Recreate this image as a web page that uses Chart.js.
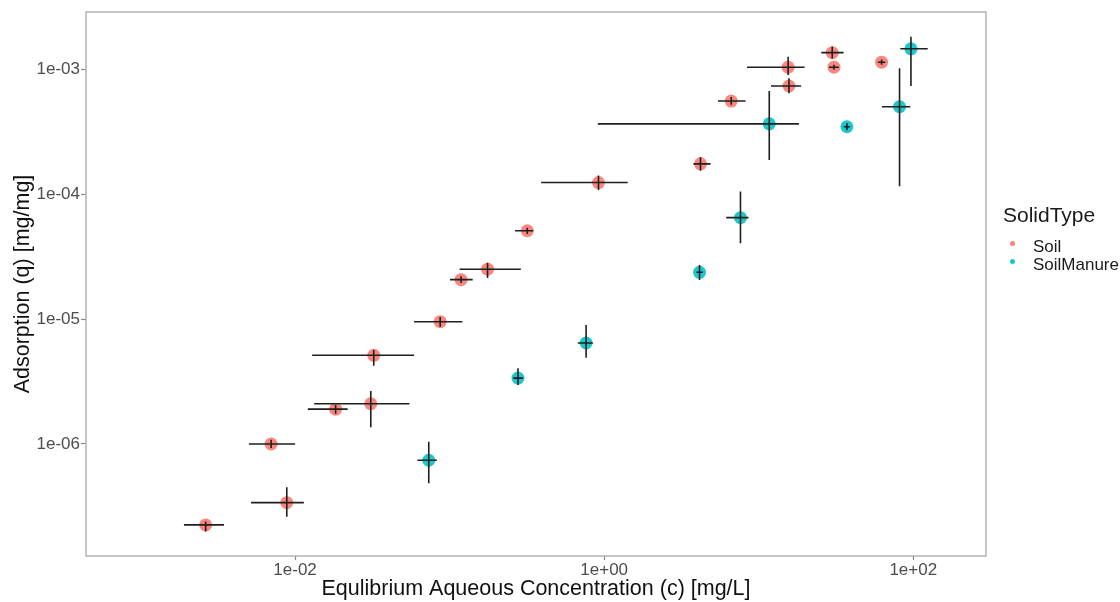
<!DOCTYPE html>
<html>
<head>
<meta charset="utf-8">
<script src="https://cdn.jsdelivr.net/npm/chart.js@4.4.1/dist/chart.umd.min.js"></script>
<style>
  html, body { margin: 0; padding: 0; background: #ffffff; }
  #wrap { position: relative; width: 1120px; height: 602px; overflow: hidden; }
  canvas { position: absolute; left: 0; top: 0; }
  .lg { position: absolute; font-family: "Liberation Sans", Arial, sans-serif; color: #1a1a1a; white-space: nowrap; }
  .dot { position: absolute; width: 5px; height: 5px; border-radius: 50%; }
</style>
</head>
<body>
<div id="wrap">
  <canvas id="c" width="1120" height="602"></canvas>
  <div class="lg" style="left:1003px; top:204px; font-size:21px; line-height:21px;">SolidType</div>
  <div class="dot" style="left:1010px; top:241px; background:rgba(248,118,109,0.9);"></div>
  <div class="lg" style="left:1033px; top:237.5px; font-size:17px; line-height:17px;">Soil</div>
  <div class="dot" style="left:1010px; top:259px; background:rgba(0,191,196,0.9);"></div>
  <div class="lg" style="left:1033px; top:255.5px; font-size:17px; line-height:17px;">SoilManure</div>
</div>
<script>
// ---------- data ----------
const seriesNames = ['Soil', 'SoilManure'];

const soilC   = [0.00264, 0.0070, 0.00884, 0.0183, 0.0309, 0.0323, 0.0869, 0.1186, 0.176, 0.318, 0.919, 4.20, 6.64, 15.5, 15.7, 29.9, 30.7, 62.4];
const soilQ   = [2.25e-7, 1.00e-6, 3.39e-7, 1.90e-6, 2.10e-6, 5.13e-6, 9.53e-6, 2.07e-5, 2.51e-5, 5.10e-5, 1.24e-4, 1.75e-4, 5.57e-4, 1.04e-3, 7.35e-4, 1.36e-3, 1.04e-3, 1.14e-3];
const soilCLo = [0.00191, 0.00503, 0.00519, 0.0121, 0.0133, 0.0129, 0.0589, 0.1006, 0.116, 0.265, 0.391, 3.78, 5.45, 8.40, 12.0, 25.4, 28.5, 59.0];
const soilCHi = [0.00347, 0.0100, 0.0114, 0.0219, 0.0550, 0.0589, 0.121, 0.141, 0.289, 0.348, 1.42, 4.88, 8.22, 19.8, 18.8, 35.4, 33.0, 66.0];
const soilQLo = [1.99e-7, 0.93e-6, 2.62e-7, 1.75e-6, 1.36e-6, 4.24e-6, 8.70e-6, 1.95e-5, 2.13e-5, 4.80e-5, 1.08e-4, 1.54e-4, 5.20e-4, 9.00e-4, 6.43e-4, 1.22e-3, 0.99e-3, 1.09e-3];
const soilQHi = [2.39e-7, 1.08e-6, 4.50e-7, 2.05e-6, 2.66e-6, 5.66e-6, 1.04e-5, 2.20e-5, 2.82e-5, 5.40e-5, 1.41e-4, 1.99e-4, 6.00e-4, 1.26e-3, 8.47e-4, 1.52e-3, 1.09e-3, 1.20e-3];

const manureC   = [0.0733, 0.277, 0.764, 4.14, 7.62, 11.7, 37.2, 81.5, 96.6];
const manureQ   = [7.41e-7, 3.37e-6, 6.44e-6, 2.37e-5, 6.49e-5, 3.66e-4, 3.47e-4, 5.02e-4, 1.46e-3];
const manureCLo = [0.0619, 0.258, 0.675, 3.95, 6.16, 0.910, 35.5, 62.7, 82.4];
const manureCHi = [0.0826, 0.299, 0.845, 4.35, 8.59, 18.2, 39.0, 95.7, 124];
const manureQLo = [4.84e-7, 2.97e-6, 4.91e-6, 2.06e-5, 4.05e-5, 1.88e-4, 3.25e-4, 1.16e-4, 7.35e-4];
const manureQHi = [1.04e-6, 4.04e-6, 8.98e-6, 2.71e-5, 1.05e-4, 6.70e-4, 3.70e-4, 1.02e-3, 1.82e-3];

const xTickValues = [1e-2, 1e0, 1e2];
const xTickLabels = ['1e-02', '1e+00', '1e+02'];
const yTickValues = [1e-6, 1e-5, 1e-4, 1e-3];
const yTickLabels = ['1e-06', '1e-05', '1e-04', '1e-03'];

const xTitle = 'Equlibrium Aqueous Concentration (c) [mg/L]';
const yTitle = 'Adsorption (q) [mg/mg]';

// ---------- chart ----------
const FONT = '"Liberation Sans", Arial, sans-serif';
const errSets = [
  { c: soilC, q: soilQ, cLo: soilCLo, cHi: soilCHi, qLo: soilQLo, qHi: soilQHi },
  { c: manureC, q: manureQ, cLo: manureCLo, cHi: manureCHi, qLo: manureQLo, qHi: manureQHi }
];

const errorBars = {
  id: 'errorBars',
  afterDatasetsDraw(chart) {
    const ctx = chart.ctx, xs = chart.scales.x, ys = chart.scales.y;
    ctx.save();
    ctx.strokeStyle = '#1f1f1f';
    ctx.lineWidth = 1.6;
    errSets.forEach(s => {
      s.c.forEach((c, i) => {
        const px = xs.getPixelForValue(c), py = ys.getPixelForValue(s.q[i]);
        ctx.beginPath();
        ctx.moveTo(xs.getPixelForValue(s.cLo[i]), py);
        ctx.lineTo(xs.getPixelForValue(s.cHi[i]), py);
        ctx.moveTo(px, ys.getPixelForValue(s.qLo[i]));
        ctx.lineTo(px, ys.getPixelForValue(s.qHi[i]));
        ctx.stroke();
      });
    });
    ctx.restore();
  }
};

const panelBorder = {
  id: 'panelBorder',
  afterDraw(chart) {
    const a = chart.chartArea, ctx = chart.ctx;
    ctx.save();
    ctx.strokeStyle = '#a8a8a8';
    ctx.lineWidth = 1.3;
    ctx.strokeRect(a.left, a.top, a.right - a.left, a.bottom - a.top);
    ctx.restore();
  }
};

new Chart(document.getElementById('c'), {
  type: 'scatter',
  data: {
    datasets: [
      {
        label: seriesNames[0],
        data: soilC.map((c, i) => ({ x: c, y: soilQ[i] })),
        backgroundColor: 'rgba(248,118,109,0.88)',
        borderWidth: 0,
        pointRadius: 6.5
      },
      {
        label: seriesNames[1],
        data: manureC.map((c, i) => ({ x: c, y: manureQ[i] })),
        backgroundColor: 'rgba(0,191,196,0.88)',
        borderWidth: 0,
        pointRadius: 6.5
      }
    ]
  },
  options: {
    responsive: false,
    animation: false,
    events: [],
    layout: { padding: { top: 12, right: 134, left: 0, bottom: 0 } },
    plugins: { legend: { display: false }, tooltip: { enabled: false } },
    scales: {
      x: {
        type: 'logarithmic',
        min: 4.44e-4,
        max: 295.5,
        afterFit(s) { s.height = 46; },
        afterBuildTicks(s) { s.ticks = xTickValues.map(v => ({ value: v })); },
        ticks: {
          callback: (v, i) => xTickLabels[i],
          font: { family: FONT, size: 17 },
          color: '#4d4d4d',
          padding: 0,
          autoSkip: false,
          maxRotation: 0
        },
        grid: { display: true, drawOnChartArea: false, drawTicks: true, tickLength: 4, color: '#8a8a8a', tickWidth: 1.2 },
        border: { display: false },
        title: {
          display: true,
          text: xTitle,
          font: { family: FONT, size: 21.5 },
          color: '#111111',
          padding: { top: 0, bottom: 0 }
        }
      },
      y: {
        type: 'logarithmic',
        min: 1.268e-7,
        max: 2.877e-3,
        afterFit(s) { s.width = 86; },
        afterBuildTicks(s) { s.ticks = yTickValues.map(v => ({ value: v })); },
        ticks: {
          callback: (v, i) => yTickLabels[i],
          font: { family: FONT, size: 17 },
          color: '#4d4d4d',
          padding: 1,
          autoSkip: false
        },
        grid: { display: true, drawOnChartArea: false, drawTicks: true, tickLength: 5, color: '#8a8a8a', tickWidth: 1.2 },
        border: { display: false },
        title: {
          display: true,
          text: yTitle,
          font: { family: FONT, size: 21.5 },
          color: '#111111',
          padding: { top: 10, bottom: 0 }
        }
      }
    }
  },
  plugins: [errorBars, panelBorder]
});
</script>
</body>
</html>
